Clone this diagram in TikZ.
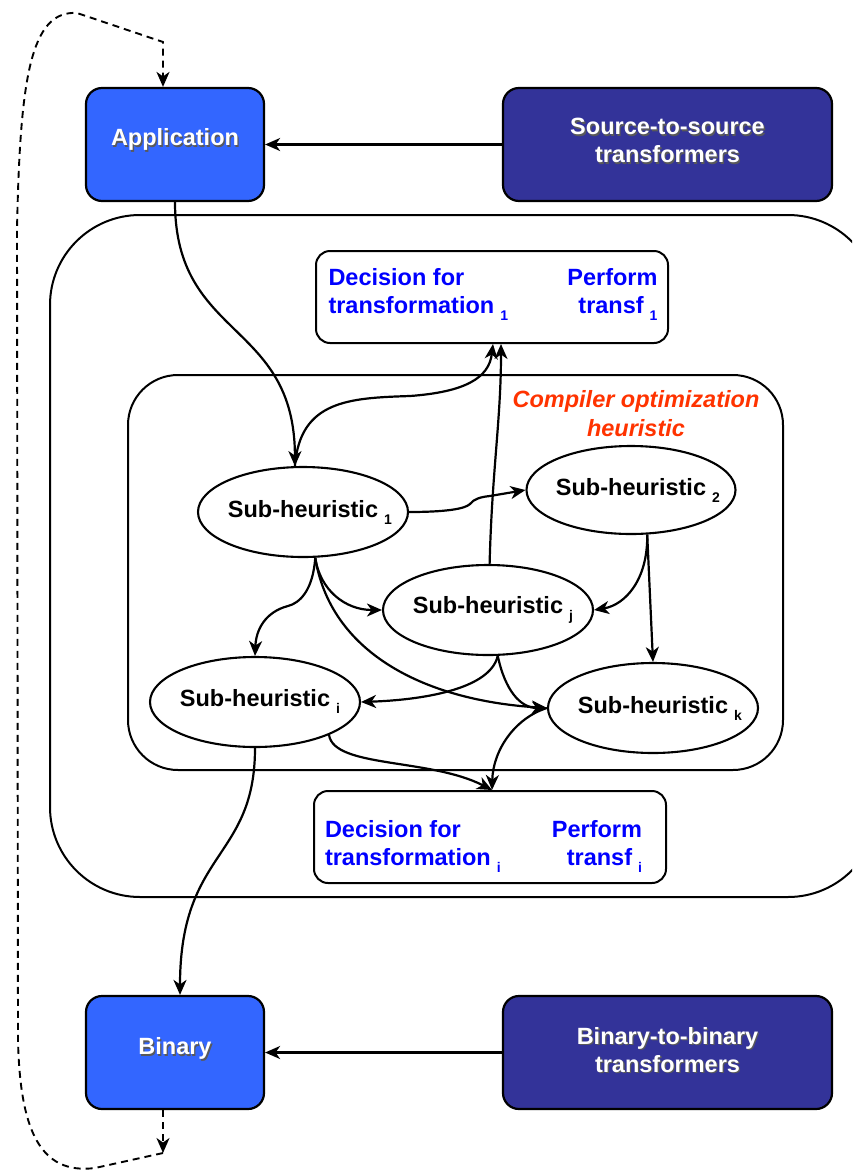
\documentclass[tikz,border=0pt]{standalone}
\usepackage{fontspec}
\setmainfont{Liberation Sans}
\usetikzlibrary{arrows.meta,shapes.geometric}
\definecolor{appblue}{HTML}{3366FF}
\definecolor{navyblue}{HTML}{333399}
\definecolor{heurred}{HTML}{FF3300}
\definecolor{txtblue}{HTML}{0000FF}
% small lowered index after a word
\newcommand{\subix}[1]{\hspace{6pt}\raisebox{-7pt}{\fontsize{14}{14}\selectfont #1}}
% white label with a soft dark drop shadow
\newcommand{\shadowed}[1]{\leavevmode\rlap{\kern1.3pt\raisebox{-1.3pt}{\textcolor{black!65}{#1}}}#1}
% centred word with the index hanging to its right
\newcommand{\subh}[1]{\makebox[0pt]{Sub-heuristic\rlap{\subix{#1}}}}
% move a label vertically without changing its box
\newcommand{\nudge}[2]{\raisebox{#1}[\height][\depth]{#2}}

\begin{document}
\begin{tikzpicture}[x=1pt,y=-1pt,
  font=\fontsize{23.5}{28}\selectfont\bfseries,
  tip/.style={-{Stealth[length=15pt,width=13pt,inset=4.5pt]}},
  arr/.style={draw, line width=2.2pt, tip},
  dasharr/.style={draw, line width=1.9pt, tip, dash pattern=on 7pt off 5pt},
  appbox/.style={draw, line width=2.2pt, rounded corners=16pt, fill=appblue,
    minimum width=178pt, minimum height=113pt, text=white, inner sep=0pt, align=center},
  toolbox/.style={draw, line width=2.2pt, rounded corners=16pt, fill=navyblue,
    minimum width=329pt, minimum height=113pt, text=white, inner sep=0pt, align=center},
  decbox/.style={draw, line width=2pt, rounded corners=14pt, fill=white,
    minimum width=352pt, minimum height=92pt, text=txtblue, inner sep=0pt},
  ellip/.style={draw, ellipse, line width=2.1pt, minimum width=210pt,
    minimum height=90pt, inner sep=0pt},
  frame/.style={draw, line width=2pt, inner sep=0pt}
]
\useasboundingbox (0,0) rectangle (852,1170);
\clip (0,0) rectangle (852,1170);

% containers
\node[frame, rounded corners=90pt, minimum width=828pt, minimum height=682pt] (outer) at (464,556) {};
\node[frame, rounded corners=50pt, minimum width=655pt, minimum height=395pt] (inner) at (455.5,572.5) {};

% programs and external tools
\node[appbox] (app) at (175,144.5) {\nudge{4pt}{\shadowed{Application}}};
\node[toolbox] (s2s) at (667.5,144.5) {\nudge{3pt}{\shadowed{Source-to-source}}\\\nudge{3pt}{\shadowed{transformers}}};
\node[appbox] (bin) at (175,1052.5) {\nudge{3pt}{\shadowed{Binary}}};
\node[toolbox] (b2b) at (667.5,1052.5) {\nudge{2pt}{\shadowed{Binary-to-binary}}\\\nudge{2pt}{\shadowed{transformers}}};

% transformation boxes
\node[decbox] (dec1) at (492,297) {\nudge{3pt}{\begin{tabular*}{329pt}{@{}l@{\extracolsep{\fill}}r@{}}Decision for & Perform\\ transformation\subix{1} & transf\subix{1}\end{tabular*}}\kern-2pt};
\node[decbox] (deci) at (490,837) {\nudge{-9pt}{\begin{tabular*}{317pt}{@{}l@{\extracolsep{\fill}}r@{}}Decision for & Perform\\ transformation\subix{i} & transf\subix{i}\end{tabular*}}\kern13pt};

% heuristic label
\node[text=heurred, font=\fontsize{23.5}{29}\selectfont\bfseries\itshape, align=center, inner sep=0pt]
  (heur) at (636,414) {Compiler optimization\\heuristic};

% sub-heuristics
\node[ellip] (sh1) at (303,512) {\subh{1}};
\node[ellip, minimum width=209pt, minimum height=88pt] (sh2) at (631,490) {\subh{2}};
\node[ellip] (shj) at (488,610) {\raisebox{3pt}{\subh{j}}};
\node[ellip] (shi) at (255,702) {\raisebox{9pt}{\subh{i}}};
\node[ellip] (shk) at (653,708) {\raisebox{2pt}{\subh{k}}};

% tool connectors
\draw[arr] (s2s.west) -- (app.east);
\draw[arr] (b2b.west) -- (bin.east);

% program into the heuristic
\draw[arr] (app.south) .. controls (175,340) and (295,320) .. (sh1.100);
\draw[arr] (sh1.100) .. controls (300,400) and (350,398) .. (410,396)
  .. controls (465,392) and (489,378) .. ([xshift=1pt]dec1.south);
\draw[arr] (shj.88) .. controls (492,470) and (501,420) .. ([xshift=9pt]dec1.south);

% sub-heuristic graph
\draw[arr] (sh1.east) .. controls (445,512) and (465,509) .. (470,504)
  .. controls (474,499) and (480,497) .. (490,496) -- (sh2.west);
\draw[arr] (sh1.-75) .. controls (313,590) and (300,603) .. (288,606)
  .. controls (265,612) and (256,630) .. (shi.north);
\draw[arr] (sh1.-75) .. controls (320,590) and (345,610) .. (shj.west);
\draw[arr] (sh1.-75) .. controls (330,650) and (420,700) .. (shk.west);
\draw[arr] (sh2.-70) .. controls (648,580) and (625,605) .. (shj.east);
\draw[arr] (sh2.-70) -- (shk.north);
\draw[arr] (shj.-78) .. controls (490,690) and (420,700) .. (shi.east);
\draw[arr] (shj.-78) .. controls (505,690) and (520,708) .. (shk.west);
\draw[arr] (shk.west) .. controls (515,718) and (493,750) .. ([xshift=2pt]deci.north);
\draw[arr] (shi.-24) .. controls (334,768) and (430,758) .. ([xshift=2pt]deci.north);

% heuristic out to the binary
\draw[arr] (shi.south) .. controls (255,860) and (180,850) .. ([xshift=5pt]bin.north);

% feedback loop
\coordinate (loopend) at (163,1153);
\draw[dasharr] ([xshift=-12pt]bin.south) -- (loopend);
\draw[dasharr] (loopend) -- (95,1168) .. controls (40,1175) and (20,1130) .. (18,1040)
  -- (17,230) .. controls (20,80) and (30,10) .. (77,13) -- (163,42) -- ([xshift=-12pt]app.north);
\end{tikzpicture}
\end{document}
